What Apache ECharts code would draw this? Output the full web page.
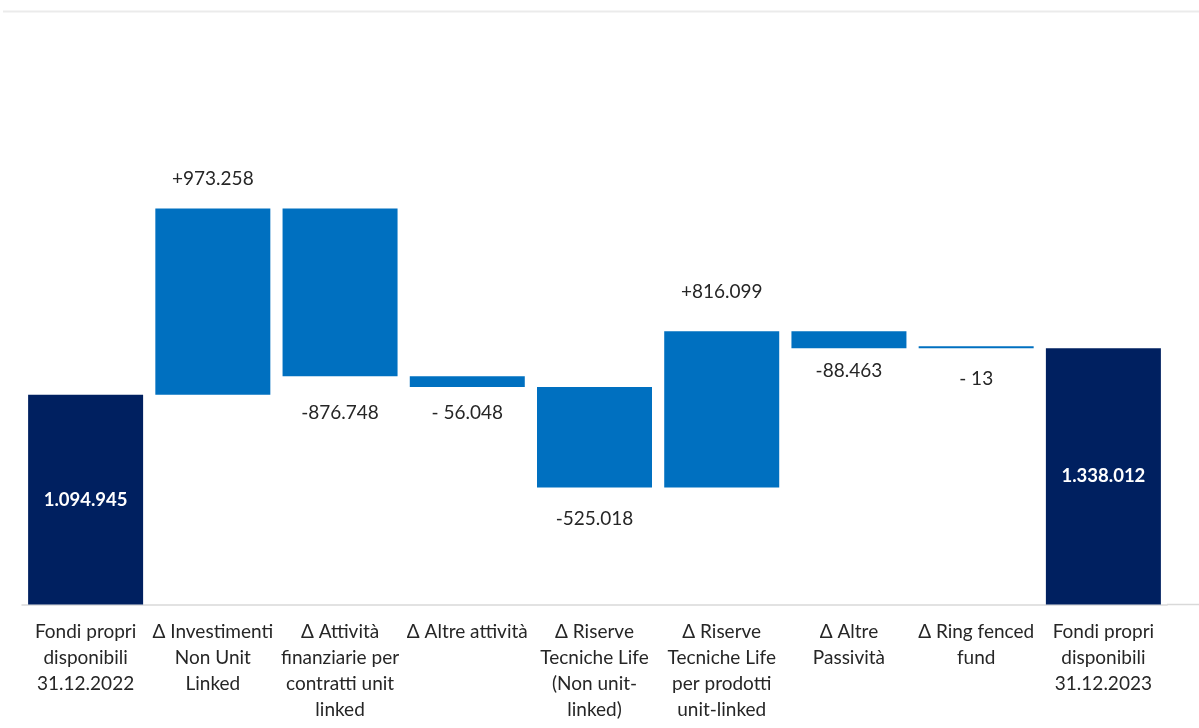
<!DOCTYPE html>
<html>
<head>
<meta charset="utf-8">
<script src="https://cdn.jsdelivr.net/npm/echarts@6/dist/echarts.min.js"></script>
<style>
html,body{margin:0;padding:0;background:#fff;}
#chart{width:1199px;height:728px;}
</style>
</head>
<body>
<div id="chart"></div>
<script>
const categories = [
  'Fondi propri\ndisponibili\n31.12.2022',
  'Δ Investimenti\nNon Unit\nLinked',
  'Δ Attività\nfinanziarie per\ncontratti unit\nlinked',
  'Δ Altre attività',
  'Δ Riserve\nTecniche Life\n(Non unit-\nlinked)',
  'Δ Riserve\nTecniche Life\nper prodotti\nunit-linked',
  'Δ Altre\nPassività',
  'Δ Ring fenced\nfund',
  'Fondi propri\ndisponibili\n31.12.2023'
];
const values = [1094945, 973258, -876748, -56048, -525018, 816099, -88463, -13, 1338012];
const isTotal = [true, false, false, false, false, false, false, false, true];
const valueLabels = ['1.094.945', '+973.258', '-876.748', '- 56.048', '-525.018', '+816.099', '-88.463', '- 13', '1.338.012'];
const yMax = 3000000;

// waterfall decomposition
const baseData = [];
const barData = [];
let running = 0;
for (let i = 0; i < values.length; i++) {
  if (isTotal[i]) {
    baseData.push(0);
    barData.push(values[i]);
    running = values[i];
  } else {
    const before = running, after = running + values[i];
    baseData.push(Math.min(before, after));
    barData.push(Math.abs(values[i]));
    running = after;
  }
}

const NAVY = '#002060';
const BLUE = '#0070C0';
const TEXT = '#262626';
const FONT = 'Lato, "Open Sans", sans-serif';
const labelGap = [0, 20, 27, 16, 22, 30, 13, 21, 0];

const chart = echarts.init(document.getElementById('chart'), null, {renderer: 'canvas'});
const option = {
  animation: false,
  backgroundColor: '#ffffff',
  grid: {left: 22, right: 32, top: 30, bottom: 123.5, containLabel: false},
  xAxis: {
    type: 'category',
    data: categories,
    axisLine: {show: true, lineStyle: {color: '#d9d9d9', width: 1.5}},
    axisTick: {show: false},
    axisLabel: {
      interval: 0, margin: 14, color: TEXT, fontFamily: FONT, fontSize: 19,
      lineHeight: 26, align: 'center', verticalAlign: 'top'
    }
  },
  yAxis: {
    type: 'value', min: 0, max: yMax, show: false, splitLine: {show: false}
  },
  series: [
    {
      type: 'bar', stack: 'w', data: baseData, barWidth: 115,
      itemStyle: {color: 'transparent'}, silent: true
    },
    {
      type: 'bar', stack: 'w', barWidth: 115, barMinHeight: 2,
      data: barData.map((v, i) => {
        const total = isTotal[i];
        const neg = values[i] < 0;
        return {
          value: v,
          itemStyle: {color: total ? NAVY : BLUE},
          label: total ? {
            show: true, position: 'inside', color: '#ffffff', fontWeight: 'bold',
            fontSize: 18.5, fontFamily: FONT, formatter: valueLabels[i]
          } : {
            show: true, position: neg ? 'bottom' : 'top', distance: labelGap[i],
            color: TEXT, fontSize: 19, fontFamily: FONT, formatter: valueLabels[i]
          }
        };
      })
    }
  ],
  graphic: [
    {type: 'line', shape: {x1: 3, y1: 11.5, x2: 1199, y2: 11.5}, style: {stroke: '#ebebeb', lineWidth: 2}},
    {type: 'line', shape: {x1: 1167, y1: 604.5, x2: 1199, y2: 604.5}, style: {stroke: '#d9d9d9', lineWidth: 1.5}}
  ]
};
chart.setOption(option);
</script>
</body>
</html>
